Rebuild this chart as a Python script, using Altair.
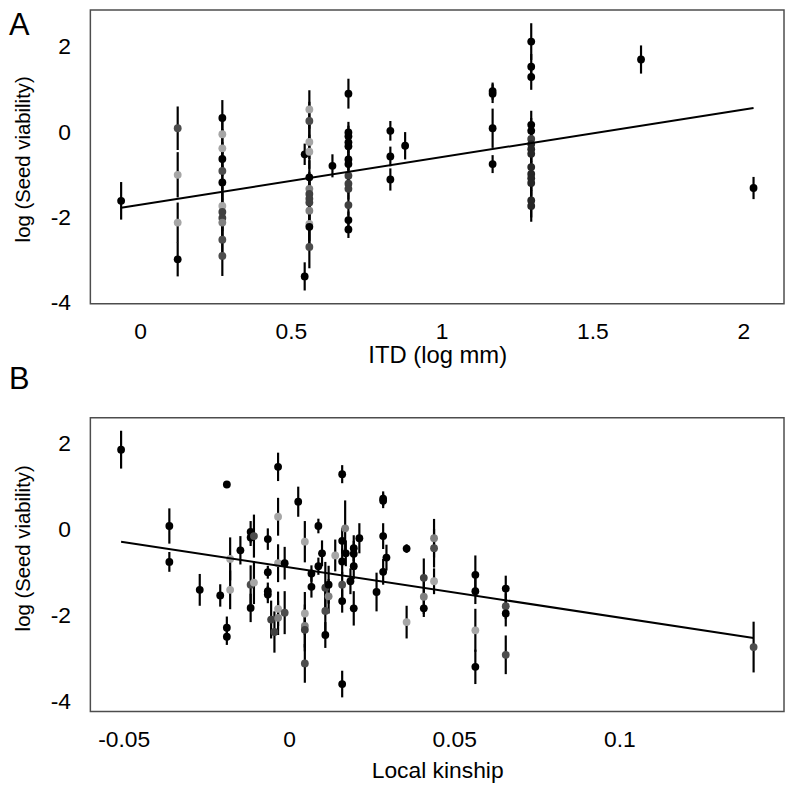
import altair as alt
import pandas as pd

FONT = "Liberation Sans"

# ---------------- Panel A: ITD (log mm) vs log(Seed viability) ----------------
a_x = [-0.0625,
       0.125, 0.125, 0.125, 0.125,
       0.273, 0.273, 0.273, 0.273, 0.273, 0.273, 0.273, 0.273, 0.273, 0.273, 0.273, 0.273,
       0.546, 0.546,
       0.5615, 0.5615, 0.5615, 0.5615, 0.5615, 0.5615, 0.5615, 0.5615, 0.5615, 0.5615, 0.5615, 0.5615, 0.5615,
       0.638,
       0.691, 0.691, 0.691, 0.691, 0.691, 0.691, 0.691, 0.691, 0.691, 0.691, 0.691, 0.691, 0.691,
       0.830, 0.830, 0.830,
       0.879,
       1.169, 1.169, 1.169, 1.169,
       1.297, 1.297, 1.297, 1.297, 1.297, 1.297, 1.297, 1.297, 1.297, 1.297, 1.297, 1.297, 1.297, 1.297, 1.297,
       1.661,
       2.034]
a_y = [-1.61,
       0.09, -1.00, -2.12, -2.98,
       0.33, -0.05, -0.38, -0.63, -0.91, -1.18, -1.73, -1.87, -2.01, -2.12, -2.52, -2.90,
       -0.52, -3.38,
       0.53, 0.26, -0.23, -0.46, -1.06, -1.33, -1.45, -1.56, -1.65, -1.84, -2.15, -2.22, -2.69,
       -0.79,
       0.90, -0.01, -0.10, -0.24, -0.33, -0.64, -0.75, -1.02, -1.21, -1.33, -1.71, -2.06, -2.28,
       0.03, -0.57, -1.11,
       -0.32,
       0.96, 0.90, 0.09, -0.75,
       2.12, 1.53, 1.29, 0.17, 0.03, -0.16, -0.28, -0.40, -0.51, -0.82, -0.98, -1.08, -1.19, -1.60, -1.73,
       1.70,
       -1.31]
a_err = [0.44,
         0.51, 0.53, 0.47, 0.40,
         0.42, 0.45, 0.45, 0.40, 0.45, 0.40, 0.45, 0.45, 0.45, 0.45, 0.45, 0.47,
         0.25, 0.33,
         0.45, 0.45, 0.40, 0.40, 0.40, 0.40, 0.40, 0.40, 0.40, 0.40, 0.40, 0.40, 0.50,
         0.27,
         0.35, 0.25, 0.25, 0.25, 0.25, 0.25, 0.25, 0.25, 0.25, 0.25, 0.25, 0.20, 0.20,
         0.23, 0.23, 0.26,
         0.32,
         0.20, 0.22, 0.46, 0.21,
         0.43, 0.30, 0.30, 0.33, 0.30, 0.30, 0.30, 0.30, 0.30, 0.30, 0.30, 0.30, 0.30, 0.40, 0.37,
         0.33,
         0.26]
a_alpha = [1,
           0.7, 0.35, 0.35, 1,
           1, 0.35, 0.35, 1, 0.7, 1, 0.35, 0.75, 0.75, 0.5, 0.7, 0.7,
           1, 1,
           0.35, 0.7, 0.35, 0.35, 1, 0.5, 0.75, 0.75, 0.75, 0.5, 0.35, 1, 0.7,
           1,
           1, 1, 1, 1, 1, 1, 1, 0.75, 0.75, 0.75, 0.75, 1, 1,
           1, 1, 1,
           1,
           1, 1, 1, 1,
           1, 1, 1, 1, 1, 0.75, 0.85, 0.85, 0.85, 0.85, 0.85, 0.85, 0.85, 0.85, 0.85,
           1,
           1]
a_line_x = [-0.0625, 2.034]
a_line_y = [-1.77, 0.565]
a_xticks = [0, 0.5, 1, 1.5, 2]
a_yticks = [-4, -2, 0, 2]

# ---------------- Panel B: Local kinship vs log(Seed viability) ----------------
b_x = [-0.0508, -0.0362, -0.0362, -0.0270, -0.0208, -0.0188, -0.0188, -0.0188, -0.0178, -0.0178,
       -0.0147, -0.0116, -0.0116, -0.0116, -0.0116, -0.0106, -0.0106, -0.0064, -0.0064, -0.0064,
       -0.0064, -0.0054, -0.0044, -0.0033, -0.0033, -0.0033, -0.0033, -0.0033, -0.0013, -0.0013,
       0.0028, 0.0048, 0.0048, 0.0048, 0.0048, 0.0048, 0.0068, 0.0068, 0.0089, 0.0089,
       0.0100, 0.0110, 0.0110, 0.0110, 0.0120, 0.0120, 0.0140, 0.0161, 0.0161, 0.0161,
       0.0161, 0.0161, 0.0161, 0.0170, 0.0172, 0.0186, 0.0196, 0.0196, 0.0196, 0.0196,
       0.0213, 0.0265, 0.0285, 0.0285, 0.0285, 0.0285, 0.0295, 0.0356, 0.0356, 0.0408,
       0.0408, 0.0408, 0.0439, 0.0439, 0.0439, 0.0564, 0.0564, 0.0564, 0.0564, 0.0656,
       0.0656, 0.0656, 0.0656, 0.1406]
b_y = [1.86, 0.085, -0.75, -1.40, -1.53, 1.05, -2.28, -2.49, -0.68, -1.40,
       -0.48, -0.05, -0.18, -1.28, -1.82, -0.15, -1.23, -0.22, -0.99, -1.43,
       -1.51, -2.09, -2.38, 1.46, 0.30, -0.78, -1.84, -2.05, -0.78, -1.93,
       0.65, -0.28, -1.95, -2.24, -2.33, -3.11, -1.02, -1.33, 0.085, -0.85,
       -0.55, -1.35, -1.89, -2.45, -1.28, -1.55, -0.60, 1.29, -0.26, -0.74,
       -1.28, -1.66, -3.59, 0.03, -0.55, -1.20, -0.43, -0.56, -0.85, -1.83,
       -0.20, -1.45, 0.72, 0.67, -0.15, -0.98, -0.65, -0.44, -2.15, -1.12,
       -1.56, -1.83, -0.20, -0.43, -1.20, -1.05, -1.43, -2.34, -3.19, -1.37,
       -1.78, -1.95, -2.91, -2.73]
b_err = [0.44, 0.41, 0.23, 0.37, 0.26, 0.08, 0.26, 0.19, 0.50, 0.45,
         0.33, 0.25, 0.20, 0.45, 0.33, 0.50, 0.50, 0.25, 0.15, 0.20,
         0.20, 0.44, 0.48, 0.33, 0.44, 0.44, 0.40, 0.40, 0.38, 0.50,
         0.35, 0.48, 0.50, 0.50, 0.50, 0.45, 0.19, 0.25, 0.17, 0.20,
         0.30, 0.60, 0.50, 0.30, 0.44, 0.40, 0.37, 0.21, 0.30, 0.30,
         0.30, 0.27, 0.31, 0.65, 0.30, 0.30, 0.30, 0.30, 0.30, 0.40,
         0.35, 0.45, 0.17, 0.17, 0.30, 0.30, 0.30, 0.10, 0.38, 0.45,
         0.40, 0.20, 0.45, 0.45, 0.30, 0.45, 0.30, 0.50, 0.40, 0.30,
         0.30, 0.30, 0.45, 0.59]
b_alpha = [1, 1, 1, 1, 1, 1, 1, 1, 0.35, 0.35,
           1, 1, 1, 0.7, 1, 0.7, 0.35, 1, 1, 1,
           1, 0.75, 0.75, 1, 0.35, 0.35, 0.35, 0.5, 1, 0.7,
           1, 0.35, 0.35, 0.5, 0.75, 0.7, 1, 1, 1, 1,
           1, 0.75, 0.7, 1, 1, 0.5, 0.35, 1, 1, 1,
           0.7, 1, 1, 0.5, 1, 1, 1, 1, 1, 1,
           1, 1, 1, 1, 1, 1, 1, 1, 0.35, 0.75,
           0.5, 1, 0.5, 0.7, 0.35, 1, 1, 0.35, 1, 1,
           0.7, 1, 0.7, 0.7]
b_line_x = [-0.0508, 0.1406]
b_line_y = [-0.28, -2.52]
b_xticks = [-0.05, 0, 0.05, 0.1]
b_yticks = [-4, -2, 0, 2]


def shade(a):
    g = round(255 * (1 - a))
    return f"rgb({g},{g},{g})"


def make_df(xs, ys, errs, alphas):
    df = pd.DataFrame({"x": xs, "y": ys, "err": errs, "alpha": alphas})
    df["lo"] = df["y"] - df["err"]
    df["hi"] = df["y"] + df["err"]
    df["fill"] = [shade(a) for a in alphas]
    return df


def letter_layer(letter, y, baseline, opacity=1):
    return alt.Chart(pd.DataFrame({"t": [letter]})).mark_text(
        align="left", baseline=baseline, font=FONT, fontSize=31, color="black",
        opacity=opacity
    ).encode(text="t:N", x=alt.value(-82), y=alt.value(y))


def panel(df, lx, ly, xdom, ydom, xticks, yticks, xtitle, xtitle_size, ytitle_y,
          xtitle_y, extra):
    xaxis = alt.Axis(values=xticks, labelExpr="datum.value + ''", title=xtitle,
                     grid=False, domain=False, ticks=False, tickSize=0,
                     labelPadding=28, labelBaseline="middle", labelFontSize=23,
                     labelFont=FONT, labelColor="black", labelFlush=False,
                     labelOverlap=False, titleFont=FONT, titleFontSize=xtitle_size,
                     titleFontWeight="normal", titleColor="black",
                     titleBaseline="middle", titleY=xtitle_y)
    yaxis = alt.Axis(values=yticks, labelExpr="datum.value + ''",
                     title="log (Seed viability)", grid=False, domain=False,
                     ticks=False, tickSize=0, labelPadding=20, labelFontSize=23,
                     labelFont=FONT, labelColor="black", labelBaseline="middle",
                     titleFont=FONT, titleFontSize=20.5, titleFontWeight="normal",
                     titleColor="black", titleX=-67, titleY=ytitle_y,
                     titleAngle=270, titleAlign="center", titleBaseline="middle")
    xs = alt.Scale(domain=xdom, nice=False, zero=False)
    ys = alt.Scale(domain=ydom, nice=False, zero=False)

    bars = alt.Chart(df).mark_rule(color="black", strokeWidth=2.2).encode(
        x=alt.X("x:Q", scale=xs, axis=xaxis),
        y=alt.Y("lo:Q", scale=ys, axis=yaxis),
        y2="hi:Q",
    )
    pts = alt.Chart(df).mark_circle(size=62, opacity=1).encode(
        x=alt.X("x:Q", scale=xs, axis=xaxis),
        y=alt.Y("y:Q", scale=ys, axis=yaxis),
        color=alt.Color("fill:N", scale=None),
    )
    line_df = pd.DataFrame({"x": lx, "y": ly})
    line = alt.Chart(line_df).mark_line(color="black", strokeWidth=2).encode(
        x=alt.X("x:Q", scale=xs, axis=xaxis),
        y=alt.Y("y:Q", scale=ys, axis=yaxis),
    )
    return alt.layer(bars, pts, line, *extra).properties(width=699, height=296)


dfa = make_df(a_x, a_y, a_err, a_alpha)
dfb = make_df(b_x, b_y, b_err, b_alpha)

# "A" sits beside the top of panel A; "B" is drawn from panel A's layer, above panel B
pa = panel(dfa, a_line_x, a_line_y, [-0.1645, 2.135], [-4.02, 2.86], a_xticks, a_yticks,
           "ITD (log mm)", 24, 150, 52,
           [letter_layer("A", 1, "top"), letter_layer("B", 382, "alphabetic")])
pb = panel(dfb, b_line_x, b_line_y, [-0.0601, 0.1498], [-4.23, 2.60], b_xticks, b_yticks,
           "Local kinship", 23, 131, 59,
           [letter_layer("B", 150, "alphabetic", opacity=0)])

chart = alt.vconcat(pa, pb, spacing=21).properties(
    padding={"left": 0, "top": -2, "right": 0, "bottom": 0}
).configure_view(stroke="#4d4d4d", strokeWidth=1.5)

chart.save("out.html", embed_options={"renderer": "svg", "actions": False})
